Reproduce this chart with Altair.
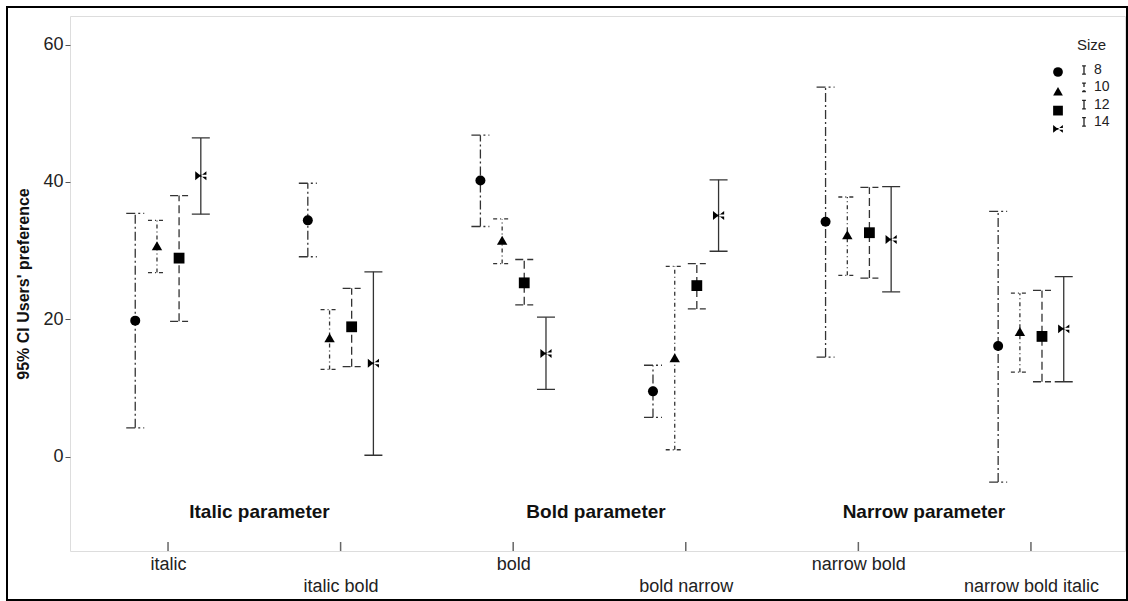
import json
import altair as alt
import pandas as pd

# ---- data ----
CATEGORIES = ["italic", "italic bold", "bold", "bold narrow", "narrow bold", "narrow bold italic"]
SIZES = ["8", "10", "12", "14"]

MEAN_8 = [19.8, 34.4, 40.2, 9.5, 34.2, 16.1]
LOW_8 = [4.2, 29.1, 33.5, 5.7, 14.5, -3.7]
HIGH_8 = [35.4, 39.8, 46.8, 13.3, 53.8, 35.7]

MEAN_10 = [30.7, 17.3, 31.5, 14.4, 32.3, 18.2]
LOW_10 = [26.8, 12.7, 28.1, 1.0, 26.4, 12.3]
HIGH_10 = [34.4, 21.4, 34.6, 27.7, 37.8, 23.8]

MEAN_12 = [28.9, 18.9, 25.3, 24.9, 32.6, 17.5]
LOW_12 = [19.7, 13.1, 22.1, 21.5, 26.0, 10.9]
HIGH_12 = [38.0, 24.5, 28.7, 28.1, 39.2, 24.2]

MEAN_14 = [40.9, 13.6, 15.0, 35.1, 31.6, 18.6]
LOW_14 = [35.3, 0.2, 9.8, 29.9, 24.0, 10.9]
HIGH_14 = [46.4, 26.9, 20.3, 40.3, 39.3, 26.2]

GROUP_LABELS = ["Italic parameter", "Bold parameter", "Narrow parameter"]
GROUP_X = [0.53, 2.48, 4.38]
GROUP_Y = [-8.1, -8.1, -8.1]

Y_TICKS = [0, 20, 40, 60]

# ---- styles ----
OFFSETS = {"8": -0.19, "10": -0.064, "12": 0.064, "14": 0.19}
BOWTIE = "M-1,-0.8L0,0L-1,0.8Z M1,-0.8L0,0L1,0.8Z M-1,-0.18H1V0.18H-1Z"
IBEAM = "M-0.45,-1H0.45M0,-1V1M-0.45,1H0.45"
SHAPES = ["circle", "triangle-up", "square", BOWTIE]
SYM_SIZES = [100, 125, 75, 190]
DASHES = [[9, 3, 2, 3], [4, 3, 1, 3], [8, 4], [1, 0]]
FONT = "Liberation Sans Narrow, Liberation Sans, Arial"
LEG_FONT = "Liberation Sans, Arial"
XMIN, XMAX = -0.568, 5.545
YMIN, YMAX = -13.74, 64.15

rows = []
series = {
    "8": (MEAN_8, LOW_8, HIGH_8),
    "10": (MEAN_10, LOW_10, HIGH_10),
    "12": (MEAN_12, LOW_12, HIGH_12),
    "14": (MEAN_14, LOW_14, HIGH_14),
}
for s in SIZES:
    m, lo, hi = series[s]
    for i, cat in enumerate(CATEGORIES):
        rows.append({"Category": cat, "idx": i, "Size": s,
                     "xpos": i + OFFSETS[s], "mean": m[i], "low": lo[i], "high": hi[i]})
df = pd.DataFrame(rows)

cat_df = pd.DataFrame({"idx": list(range(len(CATEGORIES))), "Category": CATEGORIES})
grp_df = pd.DataFrame({"label": GROUP_LABELS, "gx": GROUP_X, "gy": GROUP_Y})

names = json.dumps(CATEGORIES).replace('"', "'")
label_expr = (f"datum.value % 2 == 1 ? ['', {names}[datum.value]] : {names}[datum.value]")

xscale = alt.Scale(domain=[XMIN, XMAX], nice=False, zero=False)
yscale = alt.Scale(domain=[YMIN, YMAX], nice=False, zero=False)

x_axis = alt.Axis(values=list(range(len(CATEGORIES))), labelExpr=label_expr, title=None,
                  ticks=False, tickSize=0, domain=False, grid=False, labelFontSize=18,
                  labelFont=FONT, labelColor="#222", labelPadding=4, labelLineHeight=22,
                  labelOverlap=False, labelFlush=False, labelBound=False, labelBaseline="top")
y_axis = alt.Axis(values=Y_TICKS, title="95% CI Users' preference", titleFont=FONT,
                  titleFontSize=16, titleFontWeight="bold", titleColor="#111",
                  titlePadding=11, labelFont=FONT, labelFontSize=18, labelColor="#222",
                  tickColor="#555", tickSize=5, domain=False, grid=False, labelPadding=2)

X = alt.X("xpos:Q", scale=xscale, axis=x_axis)
Y_MEAN = alt.Y("mean:Q", scale=yscale, axis=y_axis)

dash_enc = alt.StrokeDash(
    "Size:N", scale=alt.Scale(domain=SIZES, range=DASHES),
    legend=alt.Legend(title="Size", orient="none", legendX=1007, legendY=22,
                      symbolType=IBEAM, symbolSize=70, symbolStrokeColor="#222",
                      symbolStrokeWidth=1.3, titleFont=LEG_FONT, titleFontSize=15,
                      titleFontWeight="normal", titleColor="#222", titlePadding=10,
                      labelFont=LEG_FONT, labelFontSize=14, labelColor="#222",
                      rowPadding=3.3, labelOffset=3))

base = alt.Chart(df)

bars = base.mark_rule(color="#333", strokeWidth=1.3).encode(
    x=X, y=alt.Y("low:Q", scale=yscale), y2="high:Q", strokeDash=dash_enc)

caps_low = base.mark_rule(color="#333", strokeWidth=1.3, xOffset=-9, x2Offset=9).encode(
    x=X, x2="xpos:Q", y=alt.Y("low:Q", scale=yscale),
    strokeDash=alt.StrokeDash("Size:N", scale=alt.Scale(domain=SIZES, range=DASHES), legend=None))
caps_high = base.mark_rule(color="#333", strokeWidth=1.3, xOffset=-9, x2Offset=9).encode(
    x=X, x2="xpos:Q", y=alt.Y("high:Q", scale=yscale),
    strokeDash=alt.StrokeDash("Size:N", scale=alt.Scale(domain=SIZES, range=DASHES), legend=None))

points = base.mark_point(filled=True, color="black", opacity=1).encode(
    x=X, y=Y_MEAN,
    shape=alt.Shape("Size:N", scale=alt.Scale(domain=SIZES, range=SHAPES),
                    legend=alt.Legend(title=None, orient="none", legendX=981, legendY=49,
                                      symbolFillColor="black", symbolStrokeColor="black",
                                      symbolSize=95, labelFont=LEG_FONT, labelFontSize=14,
                                      labelOpacity=0, rowPadding=3.3)),
    size=alt.Size("Size:N", scale=alt.Scale(domain=SIZES, range=SYM_SIZES), legend=None))

xticks = alt.Chart(cat_df).mark_rule(color="#666", strokeWidth=1.5, y2Offset=-9).encode(
    x=alt.X("idx:Q", scale=xscale), y=alt.datum(YMIN), y2=alt.datum(YMIN))

groups = alt.Chart(grp_df).mark_text(font=FONT, fontSize=19, fontWeight="bold",
                                     color="#111", align="center", baseline="middle").encode(
    x=alt.X("gx:Q", scale=xscale), y=alt.Y("gy:Q", scale=yscale), text="label:N")

border = alt.Chart(cat_df).mark_rect(fill=None, fillOpacity=0, stroke="black",
                                     strokeWidth=2, clip=False).encode(
    x=alt.value(-63), x2=alt.value(1057), y=alt.value(-9), y2=alt.value(584))

chart = alt.layer(bars, caps_low, caps_high, points, xticks, groups, border).properties(
    width=1055, height=535,
    autosize=alt.AutoSizeParams(type="none"),
    padding={"left": 70, "top": 16, "right": 3, "bottom": 50},
).resolve_legend(shape="independent", strokeDash="independent").configure_view(
    stroke="#7a7a7a", strokeWidth=2
).configure(background="white")

chart.save("out.html", embed_options={"renderer": "svg", "actions": False})
